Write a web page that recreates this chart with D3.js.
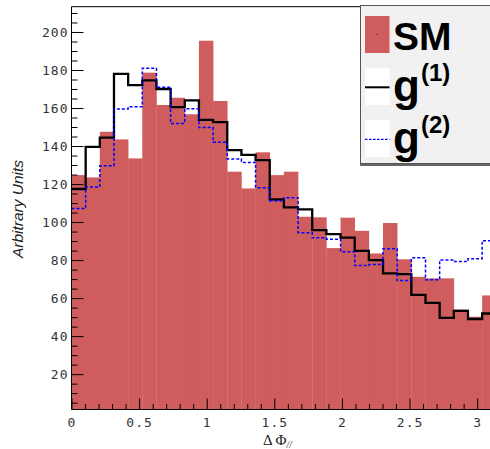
<!DOCTYPE html>
<html>
<head>
<meta charset="utf-8">
<script src="https://cdn.jsdelivr.net/npm/d3@7"></script>
<style>
  html, body { margin: 0; padding: 0; background: #fff; }
  svg { display: block; }
</style>
</head>
<body>
<svg id="chart" width="490" height="449"></svg>
<script>
// ---- data (30 bins from 0 to pi) ----
const xMin = 0;
const xMax = Math.PI;
const nBins = 30;
const smValues = [124.7, 123.5, 147.5, 143.5, 133.5, 178.6, 161.6, 165.4, 156.7, 195.4,
                  163.7, 126.5, 117.7, 136.7, 124.7, 126.5, 102.8, 102.5, 86.3, 102.3,
                  95.4, 83.5, 99.5, 80.4, 71.2, 70.4, 70.4, 54.0, 50.2, 61.4];
const g1Values = [117.4, 139.6, 144.4, 178.0, 172.0, 174.5, 170.0, 160.5, 164.0, 153.8,
                  152.6, 137.9, 135.4, 132.6, 111.9, 107.7, 106.7, 95.8, 93.7, 91.8,
                  84.9, 80.0, 73.0, 72.6, 61.7, 57.5, 49.6, 53.3, 49.0, 51.9];
const g2Values = [107.1, 118.4, 129.6, 159.5, 160.7, 180.9, 170.9, 151.9, 159.6, 149.7,
                  142.0, 133.2, 131.4, 118.1, 111.2, 112.8, 94.4, 91.7, 91.0, 84.4,
                  77.2, 77.7, 86.0, 69.2, 81.2, 69.6, 80.0, 79.2, 80.7, 90.2];
const xTickValues = [0, 0.5, 1, 1.5, 2, 2.5, 3];
const xTickLabels = ["0", "0.5", "1", "1.5", "2", "2.5", "3"];
const yTickValues = [20, 40, 60, 80, 100, 120, 140, 160, 180, 200];
const yTickLabels = ["20", "40", "60", "80", "100", "120", "140", "160", "180", "200"];
const yDomain = [1.4, 213.3];
const legendLabels = ["SM", "g", "g"];
const legendSups = ["", "(1)", "(2)"];

// ---- layout ----
const pLeft = 71.5, pRight = 496.3, pTop = 6.7, pBottom = 409.5;
const svg = d3.select("#chart");
const x = d3.scaleLinear().domain([xMin, xMax]).range([pLeft, pRight]);
const y = d3.scaleLinear().domain(yDomain).range([pBottom, pTop]);
const bw = (xMax - xMin) / nBins;
const bins = d3.range(nBins).map(i => ({ x0: xMin + i * bw, x1: xMin + (i + 1) * bw }));

const red = "#cf5d5d";

// SM filled histogram
svg.append("g").selectAll("rect")
  .data(smValues)
  .join("rect")
  .attr("x", (d, i) => x(bins[i].x0))
  .attr("width", (d, i) => x(bins[i].x1) - x(bins[i].x0) + 0.3)
  .attr("y", d => y(d))
  .attr("height", d => y(yDomain[0]) - y(d))
  .attr("fill", red);

// frame top
svg.append("line").attr("x1", pLeft).attr("x2", pRight).attr("y1", pTop).attr("y2", pTop)
  .attr("stroke", "#000").attr("stroke-width", 1);

// Y axis minor ticks
const yMinor = d3.range(5, 215, 5).filter(v => v % 20 !== 0 && v > yDomain[0] && v < yDomain[1]);
svg.append("g").attr("transform", `translate(${pLeft},0)`)
  .call(d3.axisLeft(y).tickValues(yMinor).tickSizeInner(-6).tickSizeOuter(0).tickFormat(""))
  .call(g => g.select(".domain").remove())
  .selectAll("line").attr("stroke", "#000");

// Y axis major
const yAxis = svg.append("g").attr("transform", `translate(${pLeft},0)`)
  .call(d3.axisLeft(y).tickValues(yTickValues).tickSizeInner(-12).tickSizeOuter(0).tickPadding(3)
        .tickFormat((d, i) => yTickLabels[i]));
yAxis.select(".domain").attr("stroke", "#000").attr("d", `M0,${pTop}V${pBottom}`);
yAxis.selectAll("line").attr("stroke", "#000");
yAxis.selectAll("text")
  .attr("font-family", "DejaVu Sans Mono").attr("font-size", 13)
  .attr("letter-spacing", "1px").attr("fill", "#333");

// X axis minor
const xMinor = d3.range(0, 32).map(i => i * 0.1).filter(v => Math.abs(v * 2 - Math.round(v * 2)) > 1e-6 && v < xMax);
svg.append("g").attr("transform", `translate(0,${pBottom})`)
  .call(d3.axisBottom(x).tickValues(xMinor).tickSizeInner(-5.5).tickSizeOuter(0).tickFormat(""))
  .call(g => g.select(".domain").remove())
  .selectAll("line").attr("stroke", "#000");

// X axis major
const xAxis = svg.append("g").attr("transform", `translate(0,${pBottom})`)
  .call(d3.axisBottom(x).tickValues(xTickValues).tickSizeInner(-11).tickSizeOuter(0).tickPadding(8)
        .tickFormat((d, i) => xTickLabels[i]));
xAxis.select(".domain").attr("stroke", "#000").attr("d", `M${pLeft},0H${pRight}`);
xAxis.selectAll("line").attr("stroke", "#000");
xAxis.selectAll("text")
  .attr("font-family", "DejaVu Sans Mono").attr("font-size", 13)
  .attr("letter-spacing", "1px").attr("fill", "#333");

// step lines
function stepPoints(vals) {
  const pts = vals.map((v, i) => [bins[i].x0, v]);
  pts.push([bins[nBins - 1].x1, vals[nBins - 1]]);
  return pts;
}
const line = d3.line().x(d => x(d[0])).y(d => y(d[1])).curve(d3.curveStepAfter);
svg.append("path").attr("d", line(stepPoints(g1Values)))
  .attr("fill", "none").attr("stroke", "#000").attr("stroke-width", 2.3);
svg.append("path").attr("d", line(stepPoints(g2Values)))
  .attr("fill", "none").attr("stroke", "#0000ff").attr("stroke-width", 1.5)
  .attr("stroke-dasharray", "3,2");

// axis titles
svg.append("text")
  .attr("transform", "translate(23,209) rotate(-90)")
  .attr("text-anchor", "middle")
  .attr("font-family", "Liberation Sans").attr("font-style", "italic")
  .attr("font-size", 15.5).attr("fill", "#222")
  .text("Arbitrary Units");

const xt = svg.append("text")
  .attr("x", 263).attr("y", 445)
  .attr("font-family", "Liberation Serif").attr("font-size", 15).attr("fill", "#222");
xt.append("tspan").text("Δ Φ");
xt.append("tspan").attr("font-size", 10).attr("font-style", "italic").attr("dy", 3).text("//");

// legend
const lg = svg.append("g");
lg.append("rect").attr("x", 360).attr("y", 164).attr("width", 140).attr("height", 2).attr("fill", "#666");
lg.append("rect").attr("x", 360.5).attr("y", 5.5).attr("width", 140).attr("height", 158)
  .attr("fill", "#f1f1f1").attr("stroke", "#555").attr("stroke-width", 1);

const rowTop = [16, 68, 120];
// SM symbol
lg.append("rect").attr("x", 365).attr("y", rowTop[0]).attr("width", 24.5).attr("height", 37).attr("fill", red);
lg.append("rect").attr("x", 376.5).attr("y", 34).attr("width", 1).attr("height", 1).attr("fill", "#222");
// g1 symbol
lg.append("rect").attr("x", 365).attr("y", rowTop[1]).attr("width", 24.5).attr("height", 37).attr("fill", "#fff");
lg.append("line").attr("x1", 365).attr("x2", 389.5).attr("y1", 87.3).attr("y2", 87.3)
  .attr("stroke", "#000").attr("stroke-width", 2);
// g2 symbol
lg.append("rect").attr("x", 365).attr("y", rowTop[2]).attr("width", 24.5).attr("height", 37).attr("fill", "#fff");
lg.append("line").attr("x1", 365).attr("x2", 389.5).attr("y1", 139.3).attr("y2", 139.3)
  .attr("stroke", "#0000ff").attr("stroke-width", 1.3).attr("stroke-dasharray", "2.5,1.5");

lg.append("text").attr("x", 393).attr("y", 50)
  .attr("font-family", "Liberation Sans").attr("font-weight", "bold").attr("font-size", 39)
  .attr("fill", "#000").text(legendLabels[0]);
const gBase = [100.5, 152.5];
const supBase = [81, 133];
[1, 2].forEach((k, j) => {
  lg.append("text").attr("x", 393).attr("y", gBase[j])
    .attr("font-family", "Liberation Sans").attr("font-weight", "bold").attr("font-size", 44)
    .attr("fill", "#000").text(legendLabels[k]);
  lg.append("text").attr("x", 421).attr("y", supBase[j])
    .attr("font-family", "Liberation Sans").attr("font-weight", "bold").attr("font-size", 24)
    .attr("fill", "#000").text(legendSups[k]);
});
</script>
</body>
</html>
